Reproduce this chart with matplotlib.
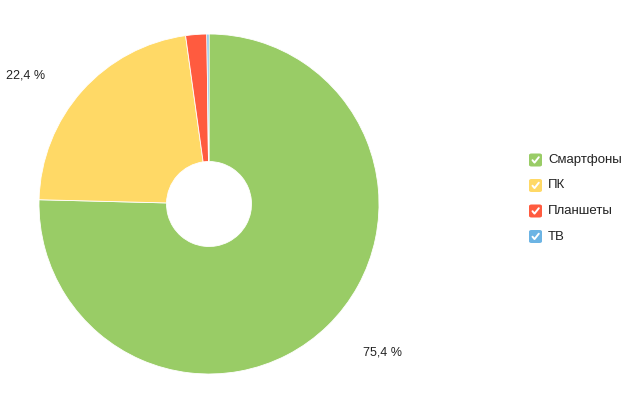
import matplotlib
matplotlib.use("Agg")
import matplotlib.pyplot as plt
from matplotlib.patches import FancyBboxPatch
from matplotlib.lines import Line2D

categories = ["Смартфоны", "ПК", "Планшеты", "ТВ"]
values = [75.4, 22.4, 2.0, 0.2]
colors = ["#99CC66", "#FFD966", "#FF5B3F", "#6CB4E4"]
shown_labels = ["75,4 %", "22,4 %", "", ""]

plt.rcParams['font.family'] = ['Liberation Sans', 'DejaVu Sans']

W, H = 640, 396
fig = plt.figure(figsize=(W/100, H/100), dpi=100)
ax = fig.add_axes([39/W, 22/H, 340/W, 340/H])
wedges, texts = ax.pie(values, colors=colors, startangle=90, counterclock=False,
                       labels=shown_labels, labeldistance=1.24,
                       wedgeprops=dict(width=0.75, edgecolor='white', linewidth=0.6),
                       textprops=dict(fontsize=9, color='#222222'))
ax.set_xlim(-1, 1)
ax.set_ylim(-1, 1)
ax.set_aspect('equal')
ax.axis('off')

# nudge labels (pixel offsets) to match reference placement
offsets = [(7, 2), (-7, -12), (0, 0), (0, 0)]
for t, (dx, dy) in zip(texts, offsets):
    x, y = t.get_position()
    t.set_position((x + dx / 170.0, y + dy / 170.0))

# legend
x0 = 529
y_rows = [160, 185.5, 211, 236.5]
for name, col, yc in zip(categories, colors, y_rows):
    s = 13
    box = FancyBboxPatch(((x0)/W, (H - yc - s/2)/H), s/W, s/H,
                         boxstyle="round,pad=0,rounding_size=0.004",
                         transform=fig.transFigure, facecolor=col, edgecolor='none')
    fig.patches.append(box)
    cx = [x0 + 3.5, x0 + 5.5, x0 + 9.8]
    cy = [yc + 0.2, yc + 2.6, yc - 2.8]
    fig.lines.append(Line2D([c/W for c in cx], [(H - c)/H for c in cy],
                            transform=fig.transFigure, color='white', lw=1.4,
                            solid_capstyle='round', solid_joinstyle='round'))
    fig.text((x0 + 19)/W, (H - yc)/H, name, fontsize=9.5, color='#222222',
             va='center', ha='left')

fig.savefig("out.png", dpi=100, facecolor='white')
